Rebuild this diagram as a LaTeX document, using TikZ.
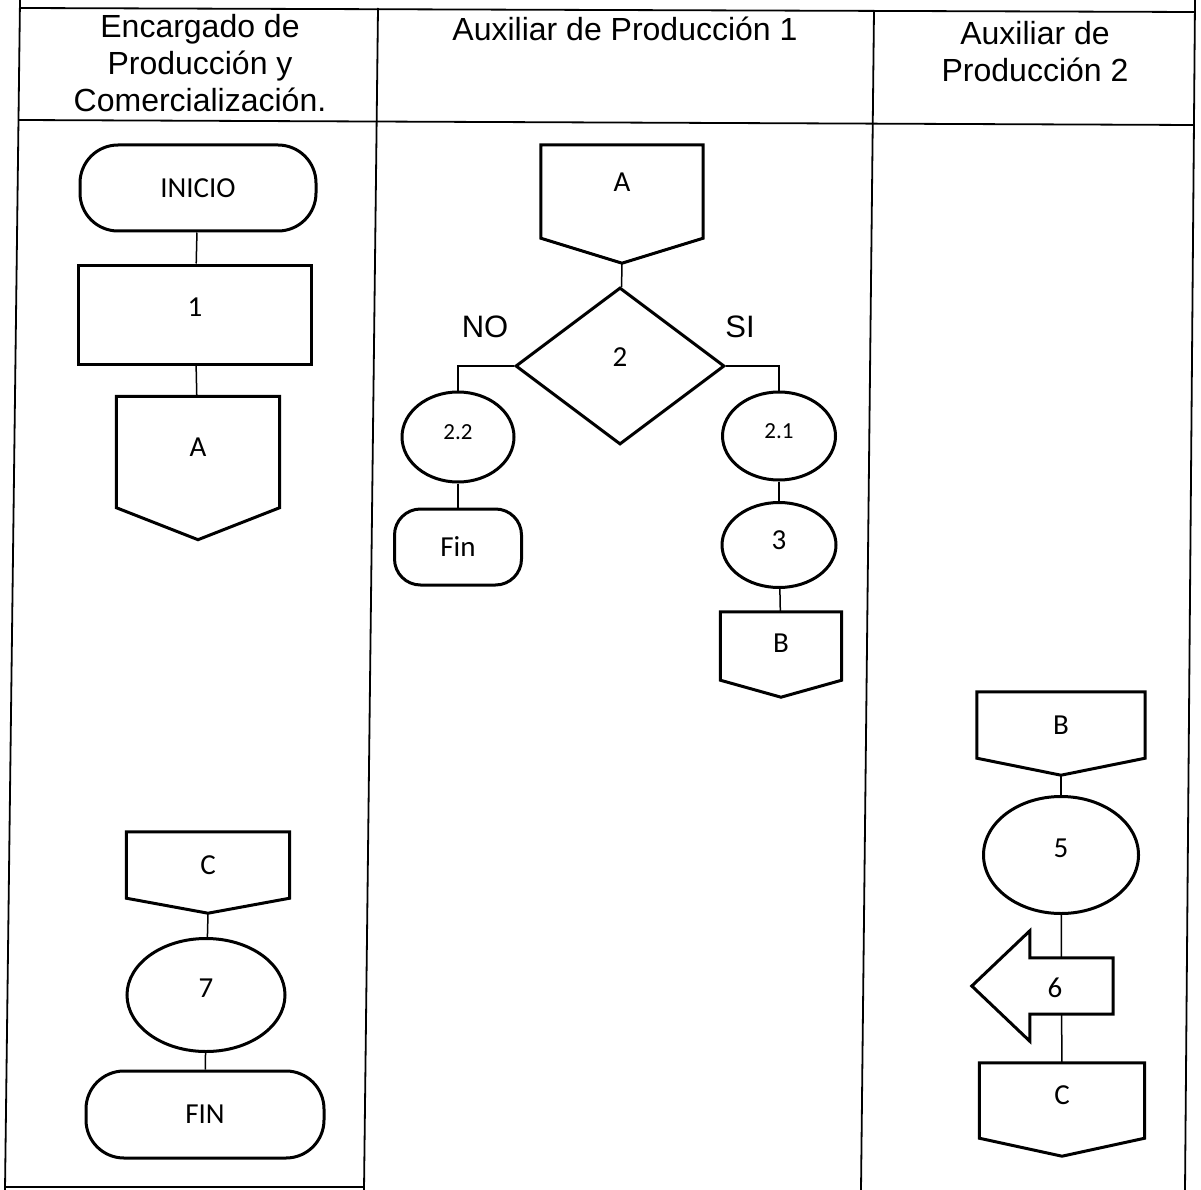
\documentclass[tikz,border=0pt]{standalone}
\usepackage{fontspec}
\setmainfont{Liberation Sans}
\newfontfamily\carlito{Carlito}
\usetikzlibrary{shapes.geometric,calc}
\pgfdeclarelayer{bg}
\pgfsetlayers{bg,main}
\begin{document}
\begin{tikzpicture}[x=1pt,y=-1pt,
  frame/.style={line width=1.8pt},
  shp/.style={draw, line width=3pt, fill=white, inner sep=0pt, font=\carlito\fontsize{29}{33}\selectfont},
  term/.style={shp, rectangle},
  proc/.style={shp, rectangle},
  ell/.style={shp, ellipse},
  dec/.style={shp, diamond},
  opbox/.style={inner sep=0pt, font=\carlito\fontsize{29}{33}\selectfont},
  opline/.style={line width=3pt},
  conn/.style={line width=1.5pt},
  hdr/.style={font=\fontsize{32}{37}\selectfont, inner sep=0pt, anchor=base},
  lab/.style={font=\fontsize{31}{36}\selectfont, inner sep=0pt},
  small/.style={font=\carlito\fontsize{23}{27}\selectfont}
]
\begin{pgfonlayer}{bg}
\fill[white] (0,0) rectangle (1201,1190);
\end{pgfonlayer}
\useasboundingbox (0,0) rectangle (1201,1190);

% frame
\draw[frame] (20,0) -- (5,1190);
\draw[frame] (1195,0) -- (1185,1190);
\draw[frame] (20,8) -- (1195,12);
\draw[frame] (19,120) -- (1194,125);
\draw[frame] (378,8) -- (364,1190);
\draw[frame] (874,10) -- (861,1190);
\draw[frame] (5,1187) -- (364,1187);

% headers
\node[hdr] (h1a) at (200,38) {Encargado de};
\node[hdr] (h1b) at (200,75) {Producción y};
\node[hdr] (h1c) at (200,112) {Comercialización.};
\node[hdr] (h2) at (625,41) {Auxiliar de Producción 1};
\node[hdr] (h3a) at (1035,45) {Auxiliar de};
\node[hdr] (h3b) at (1035,82) {Producción 2};

% column 1
\node[term, rounded corners=38pt, minimum width=236, minimum height=86] (ini) at (198,188) {INICIO};
\node[proc, text depth=14pt, minimum width=233, minimum height=99] (n1) at (195,314.5) {1};
\node[opbox, text depth=10pt, minimum width=163, minimum height=111] (A1) at (198,452) {A};
\coordinate (A1t) at ([yshift=-32pt]A1.south);
\draw[opline] (A1.north west) -- (A1.north east) -- (A1.south east) -- (A1t) -- (A1.south west) -- cycle;

\node[opbox, minimum width=163, minimum height=66] (C1) at (208,865) {C};
\coordinate (C1t) at ([yshift=-15pt]C1.south);
\draw[opline] (C1.north west) -- (C1.north east) -- (C1.south east) -- (C1t) -- (C1.south west) -- cycle;
\node[ell, text depth=14pt, minimum width=158, minimum height=113] (e7) at (206,995) {7};
\node[term, rounded corners=38pt, minimum width=238, minimum height=87] (fin) at (205,1114.5) {FIN};

\draw[conn] (ini) -- (n1);
\draw[conn] (n1) -- (A1);
\draw[conn] (C1t) -- (e7);
\draw[conn] (e7) -- (fin);

% column 2
\node[opbox, text depth=18pt, minimum width=162, minimum height=93] (A2) at (622,191.5) {A};
\coordinate (A2t) at ([yshift=-25pt]A2.south);
\draw[opline] (A2.north west) -- (A2.north east) -- (A2.south east) -- (A2t) -- (A2.south west) -- cycle;
\node[dec, text depth=18pt, minimum width=209, minimum height=157] (d2) at (620,366) {2};
\node[lab] (no) at (485,327) {NO};
\node[lab] (si) at (740,327) {SI};
\node[ell, small, text depth=10pt, minimum width=112, minimum height=90] (e22) at (458,437) {2.2};
\node[term, rounded corners=26pt, minimum width=127, minimum height=76] (F2) at (458,547) {Fin};
\node[ell, small, text depth=10pt, minimum width=113, minimum height=88] (e21) at (779,436) {2.1};
\node[ell, text depth=10pt, minimum width=114, minimum height=85] (e3) at (779,545) {3};
\node[opbox, text depth=6pt, minimum width=121, minimum height=68] (B2) at (781,646) {B};
\coordinate (B2t) at ([yshift=-17pt]B2.south);
\draw[opline] (B2.north west) -- (B2.north east) -- (B2.south east) -- (B2t) -- (B2.south west) -- cycle;

\draw[conn] (A2t) -- (d2);
\draw[conn] (d2.west) -| (e22.north);
\draw[conn] (e22) -- (F2);
\draw[conn] (d2.east) -| (e21.north);
\draw[conn] (e21) -- (e3);
\draw[conn] (e3) -- (B2);

% column 3
\node[opbox, minimum width=168, minimum height=66] (B3) at (1061,725) {B};
\coordinate (B3t) at ([yshift=-17pt]B3.south);
\draw[opline] (B3.north west) -- (B3.north east) -- (B3.south east) -- (B3t) -- (B3.south west) -- cycle;
\node[ell, text depth=14pt, minimum width=155, minimum height=117] (e5) at (1061,855) {5};
\node[opbox, text depth=10pt, minimum width=165, minimum height=75] (C3) at (1062,1100.5) {C};
\coordinate (C3t) at ([yshift=-18pt]C3.south);
\draw[opline] (C3.north west) -- (C3.north east) -- (C3.south east) -- (C3t) -- (C3.south west) -- cycle;

\node[inner sep=0pt, minimum width=83, minimum height=56] (n6) at (1071.5,986) {};
\draw[opline, fill=white] (n6.north east) -- (n6.north west) -- ([yshift=27pt]n6.north west)
  -- ([xshift=-58pt]n6.west) -- ([yshift=-27pt]n6.south west) -- (n6.south west) -- (n6.south east) -- cycle;
\node[opbox] (l6) at (1055,988) {6};

\draw[conn] (B3t) -- (e5);
\begin{pgfonlayer}{bg}
\draw[conn] (e5) -- (C3);
\end{pgfonlayer}
\end{tikzpicture}
\end{document}
